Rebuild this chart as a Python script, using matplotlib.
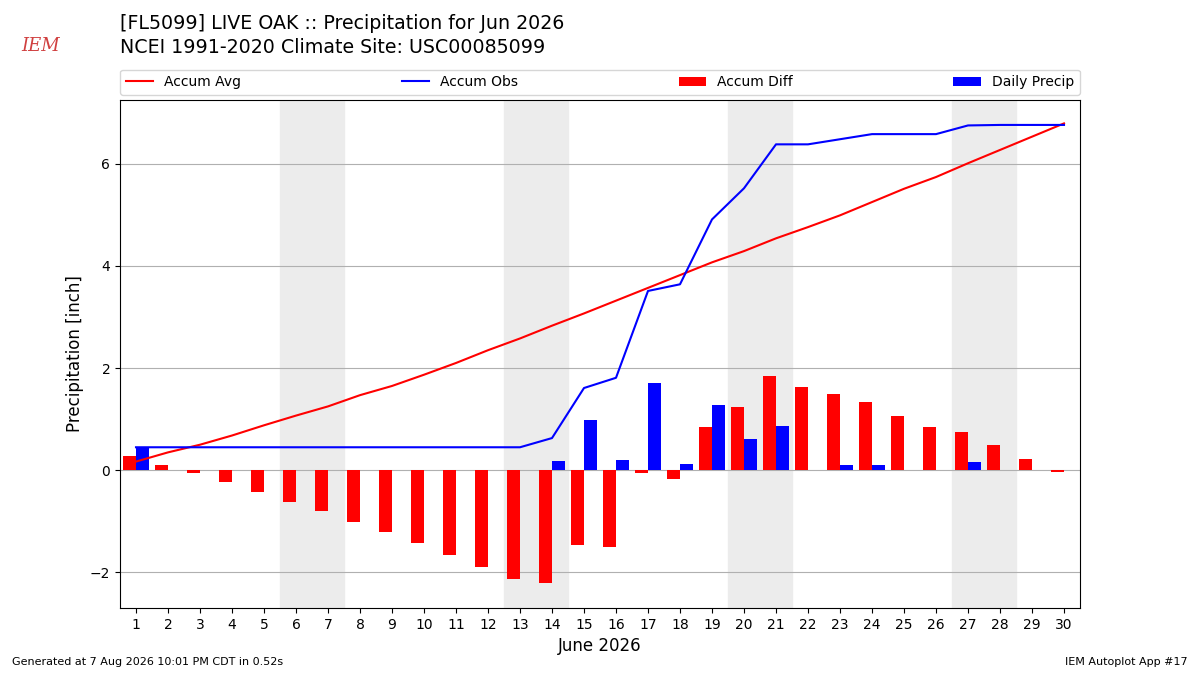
import numpy as np
import matplotlib
matplotlib.use('Agg')
import matplotlib.pyplot as plt

days = np.arange(1, 31)
daily_precip = [0.45, 0, 0, 0, 0, 0, 0, 0, 0, 0, 0, 0, 0, 0.18, 0.98, 0.20, 1.70, 0.13,
                1.27, 0.61, 0.86, 0, 0.10, 0.10, 0, 0, 0.17, 0.01, 0, 0]
accum_avg = [0.17, 0.35, 0.50, 0.68, 0.88, 1.07, 1.25, 1.47, 1.65, 1.87, 2.10, 2.35, 2.58,
             2.83, 3.07, 3.32, 3.57, 3.82, 4.07, 4.29, 4.54, 4.76, 4.99, 5.25, 5.51, 5.74,
             6.01, 6.27, 6.53, 6.79]
weekend_starts = [6, 13, 20, 27]

accum_obs = np.cumsum(daily_precip)
accum_diff = accum_obs - np.array(accum_avg)

fig = plt.figure(figsize=(12, 6.75), dpi=100)
ax = fig.add_axes([0.1, 0.099, 0.8, 0.753])

for d in weekend_starts:
    ax.axvspan(d - 0.5, d + 1.5, color='#ececec', zorder=0)

ax.plot(days, accum_avg, color='r', label='Accum Avg', zorder=3)
ax.plot(days, accum_obs, color='b', label='Accum Obs', zorder=3)
ax.bar(days - 0.2, accum_diff, width=0.4, color='r', label='Accum Diff', zorder=2)
ax.bar(days + 0.2, daily_precip, width=0.4, color='b', label='Daily Precip', zorder=2)

ax.set_xlim(0.5, 30.5)
ax.set_ylim(-2.7, 7.25)
ax.set_xticks(days)
ax.set_yticks([-2, 0, 2, 4, 6])
ax.grid(True, axis='y', zorder=1)
ax.set_axisbelow(True)
ax.set_xlabel('June 2026', fontsize=12)
ax.set_ylabel('Precipitation [inch]', fontsize=12)
ax.legend(loc='lower left', bbox_to_anchor=(0, 1.01, 1, 0.05), ncol=4, mode='expand',
          borderaxespad=0, fontsize=10)

fig.text(0.1, 0.965, '[FL5099] LIVE OAK :: Precipitation for Jun 2026', fontsize=13.7, va='center')
fig.text(0.1, 0.93, 'NCEI 1991-2020 Climate Site: USC00085099', fontsize=13.7, va='center')
fig.text(0.01, 0.015, 'Generated at 7 Aug 2026 10:01 PM CDT in 0.52s', fontsize=8)
fig.text(0.99, 0.015, 'IEM Autoplot App #17', fontsize=8, ha='right')
fig.text(0.018, 0.925, 'IEM', fontsize=13, color='#d04040', style='italic', family='serif')

fig.savefig('out.png')
